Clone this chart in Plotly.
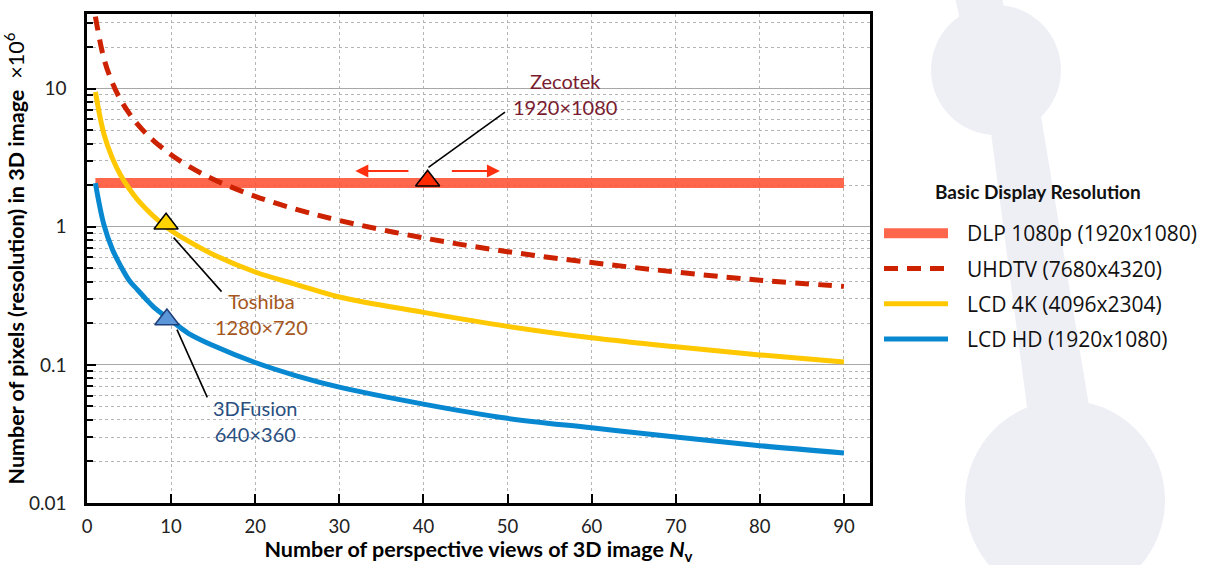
import plotly.graph_objects as go

# ---------------- data ----------------
views = [1, 2, 3, 4, 5, 6, 7, 8, 10, 12, 15, 20, 25, 30, 40, 50, 60, 70, 80, 90]
uhdtv = [33.2, 16.6, 11.06, 8.29, 6.64, 5.53, 4.74, 4.15, 3.32, 2.76, 2.21, 1.66,
         1.33, 1.11, 0.83, 0.66, 0.55, 0.47, 0.41, 0.37]
lcd4k = [9.44, 4.72, 3.15, 2.36, 1.89, 1.57, 1.35, 1.18, 0.94, 0.79, 0.63, 0.47,
         0.38, 0.31, 0.24, 0.19, 0.157, 0.135, 0.118, 0.105]
lcdhd = [2.07, 1.04, 0.69, 0.52, 0.41, 0.35, 0.30, 0.26, 0.21, 0.17, 0.138, 0.104,
         0.083, 0.069, 0.052, 0.041, 0.035, 0.030, 0.026, 0.023]
dlp_x = [1, 90]
dlp_y = [2.07, 2.07]

series_names = ["DLP 1080p (1920x1080)", "UHDTV (7680x4320)",
                "LCD 4K (4096x2304)", "LCD HD (1920x1080)"]
legend_title = "Basic Display Resolution"

# marked displays
mark_names = ["Zecotek", "Toshiba", "3DFusion"]
mark_res = ["1920×1080", "1280×720", "640×360"]
mark_x = [40.5, 9.4, 9.5]
mark_y = [2.15, 1.05, 0.213]

x_ticks = [0, 10, 20, 30, 40, 50, 60, 70, 80, 90]
y_ticks = [0.01, 0.1, 1, 10]
y_tick_labels = ["0.01", "0.1", "1", "10"]

# ---------------- figure ----------------
W, H = 1209, 565
ML, MR, MT, MB = 87, 339, 14, 62
PW, PH = W - ML - MR, H - MT - MB


def pxx(x):
    return (x - ML) / PW


def pxy(y):
    return (H - MB - y) / PH


fig = go.Figure()

pad = "\u2002\u2009"
fig.add_trace(go.Scatter(x=dlp_x, y=dlp_y, mode="lines", name=pad + series_names[0],
                         line=dict(color="rgba(255,82,52,0.88)", width=10),
                         legendgroup="a"))
fig.add_trace(go.Scatter(x=views, y=uhdtv, mode="lines", name=pad + series_names[1],
                         line=dict(color="#cc2200", width=5, dash="14px,9px", shape="spline"),
                         legendgroup="b"))
fig.add_trace(go.Scatter(x=views, y=lcd4k, mode="lines", name=pad + series_names[2],
                         line=dict(color="#ffc800", width=5, shape="spline"),
                         legendgroup="c"))
fig.add_trace(go.Scatter(x=views, y=lcdhd, mode="lines", name=pad + series_names[3],
                         line=dict(color="#0888d0", width=5, shape="spline"),
                         legendgroup="d"))

mark_colors = ["#ff2a00", "#ffd400", "#5b96d8"]
mark_lines = ["#000000", "#000000", "#1f3f78"]
for i in range(3):
    fig.add_trace(go.Scatter(x=[mark_x[i]], y=[mark_y[i]], mode="markers",
                             showlegend=False,
                             marker=dict(symbol="triangle-up", size=21, color=mark_colors[i],
                                         line=dict(color=mark_lines[i], width=1.5))))

# leader lines (data values)
leaders = [
    (40.6, 2.69, 49.7, 6.76),
    (10.3, 0.834, 16.0, 0.339),
    (10.7, 0.180, 14.3, 0.0582),
]
for x0, y0, x1, y1 in leaders:
    fig.add_shape(type="line", xref="x", yref="y", x0=x0, y0=y0, x1=x1, y1=y1,
                  line=dict(color="black", width=1.6))

text_colors = ["#7a1c30", "#a5561c", "#2a4f7f"]
text_pos = [(56.8, 0.96), (20.8, -0.635), (20.0, -1.408)]
for i in range(3):
    fig.add_annotation(x=text_pos[i][0], y=text_pos[i][1], xref="x", yref="y",
                       text=mark_names[i] + "<br>" + mark_res[i], showarrow=False,
                       font=dict(family="Lato", size=20, color=text_colors[i]),
                       align="center")

# red direction arrows
for tail, head in [(38.4, 31.9), (43.2, 49.1)]:
    fig.add_annotation(x=head, y=0.404, ax=tail, ay=0.404, xref="x", yref="y",
                       axref="x", ayref="y", text="", showarrow=True,
                       arrowhead=2, arrowsize=1.3, arrowwidth=2, arrowcolor="#ff3010")

# legend title
fig.add_annotation(x=pxx(1038), y=pxy(191), xref="paper", yref="paper",
                   xanchor="center", yanchor="middle",
                   text="<b>" + legend_title + "</b>", showarrow=False,
                   font=dict(family="Lato", size=19, color="#111"))

# background silhouette
bg = "#eeeff5"
fig.add_shape(type="circle", xref="paper", yref="paper", layer="below",
              x0=pxx(931), x1=pxx(1061), y0=pxy(135), y1=pxy(5),
              fillcolor=bg, line=dict(width=0))
fig.add_shape(type="circle", xref="paper", yref="paper", layer="below",
              x0=pxx(965), x1=pxx(1165), y0=pxy(600), y1=pxy(400),
              fillcolor=bg, line=dict(width=0))
fig.add_shape(type="path", xref="paper", yref="paper", layer="below",
              path="M {} {} L {} {} L {} {} L {} {} Z".format(
                  pxx(955), pxy(-2), pxx(1002), pxy(-2), pxx(1010), pxy(40), pxx(965), pxy(40)),
              fillcolor=bg, line=dict(width=0))
fig.add_shape(type="path", xref="paper", yref="paper", layer="below",
              path="M {} {} L {} {} L {} {} L {} {} Z".format(
                  pxx(988), pxy(110), pxx(1040), pxy(110), pxx(1093), pxy(430), pxx(1030), pxy(430)),
              fillcolor=bg, line=dict(width=0))

grid_c = "#b4b4b4"
fig.update_layout(
    width=W, height=H,
    margin=dict(l=ML, r=MR, t=MT, b=MB, pad=0, autoexpand=False),
    paper_bgcolor="white", plot_bgcolor="rgba(0,0,0,0)",
    font=dict(family="Lato", size=19, color="#222"),
    showlegend=True,
    legend=dict(
        x=pxx(879), y=pxy(213), xanchor="left", yanchor="top",
        bgcolor="rgba(0,0,0,0)",
        font=dict(family="Open Sans", size=21, color="#111"),
        traceorder="grouped", tracegroupgap=5, itemwidth=64,
    ),
    xaxis=dict(
        range=[0, 93.1], tickvals=x_ticks, ticks="inside", ticklen=9, tickwidth=2,
        tickcolor="black", showline=True, linecolor="black", linewidth=2.5, mirror=True,
        showgrid=True, gridcolor=grid_c, griddash="dot", gridwidth=1, zeroline=False,
        ticklabelstandoff=5, automargin=False,
        tickfont=dict(family="Lato", size=18.5, color="#222"),
        title=dict(text="<b>Number of perspective views of 3D image <i>N</i><sub>v</sub></b>",
                   font=dict(family="Lato", size=21.5, color="black"), standoff=5),
    ),
    yaxis=dict(
        type="log", range=[-2, 1.54], tickvals=y_ticks, ticktext=y_tick_labels,
        ticks="inside", ticklen=9, tickwidth=2, tickcolor="black",
        showline=True, linecolor="black", linewidth=2.5, mirror=True,
        showgrid=True, gridcolor="#a8a8a8", gridwidth=1.2, zeroline=False,
        ticklabelstandoff=14, automargin=False,
        tickfont=dict(family="Lato", size=19, color="#222"),
        minor=dict(dtick="D1", ticks="inside", ticklen=6, tickwidth=1.5, tickcolor="black",
                   showgrid=True, gridcolor=grid_c, griddash="dot", gridwidth=1),
        title=dict(text="<b>Number of pixels (resolution) in 3D image</b>  ×10<sup>6</sup>",
                   font=dict(family="Lato", size=21.5, color="black"), standoff=8),
    ),
)

fig.write_html("out.html", config={"displayModeBar": False},
               post_script="document.body.style.margin='0';document.body.style.overflow='hidden';")
